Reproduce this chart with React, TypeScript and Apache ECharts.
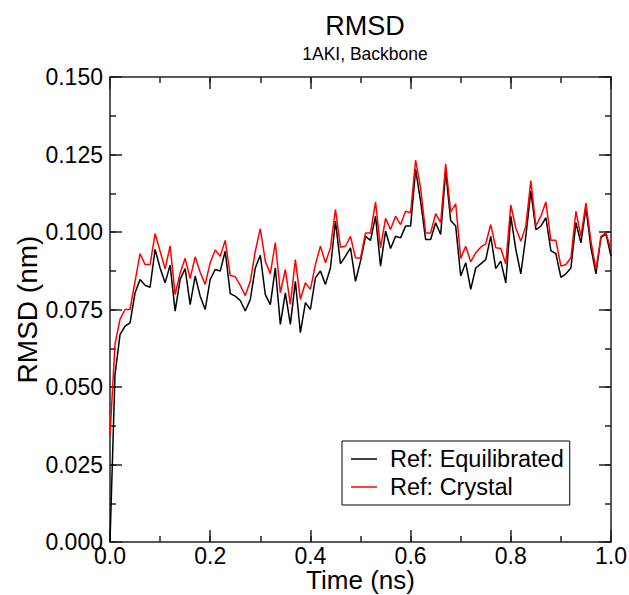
import React, { useEffect, useRef } from "react";
import * as echarts from "echarts";

const timeNs = [
  0.0, 0.01, 0.02, 0.03, 0.04, 0.05, 0.06, 0.07, 0.08, 0.09,
  0.1, 0.11, 0.12, 0.13, 0.14, 0.15, 0.16, 0.17, 0.18, 0.19,
  0.2, 0.21, 0.22, 0.23, 0.24, 0.25, 0.26, 0.27, 0.28, 0.29,
  0.3, 0.31, 0.32, 0.33, 0.34, 0.35, 0.36, 0.37, 0.38, 0.39,
  0.4, 0.41, 0.42, 0.43, 0.44, 0.45, 0.46, 0.47, 0.48, 0.49,
  0.5, 0.51, 0.52, 0.53, 0.54, 0.55, 0.56, 0.57, 0.58, 0.59,
  0.6, 0.61, 0.62, 0.63, 0.64, 0.65, 0.66, 0.67, 0.68, 0.69,
  0.7, 0.71, 0.72, 0.73, 0.74, 0.75, 0.76, 0.77, 0.78, 0.79,
  0.8, 0.81, 0.82, 0.83, 0.84, 0.85, 0.86, 0.87, 0.88, 0.89,
  0.9, 0.91, 0.92, 0.93, 0.94, 0.95, 0.96, 0.97, 0.98, 0.99,
  1.0,
];

const rmsdEquilibrated = [
  0.0, 0.054, 0.0669, 0.0696, 0.0707, 0.0804, 0.0847, 0.0828, 0.0822, 0.0944,
  0.0884, 0.0836, 0.0893, 0.0745, 0.0847, 0.0882, 0.0766, 0.0858, 0.0793, 0.075,
  0.0847, 0.0879, 0.0874, 0.0938, 0.0801, 0.0793, 0.0779, 0.0745, 0.0782, 0.0884,
  0.0925, 0.0798, 0.0766, 0.0884, 0.0702, 0.0804, 0.0702, 0.0841, 0.0675, 0.0772,
  0.075, 0.0852, 0.0874, 0.0831, 0.0884, 0.1035, 0.0897, 0.0922, 0.0949, 0.0841,
  0.0906, 0.0986, 0.0973, 0.1051, 0.089, 0.1003, 0.0947, 0.0986, 0.0981, 0.1019,
  0.1019, 0.1202, 0.1099, 0.0976, 0.0976, 0.103, 0.0992, 0.1196, 0.1037, 0.1019,
  0.0858, 0.0901, 0.0815, 0.0884, 0.0897, 0.0911, 0.0986, 0.0882, 0.0906, 0.0836,
  0.1051, 0.0944, 0.0865, 0.0986, 0.1132, 0.1008, 0.1019, 0.1046, 0.094, 0.093,
  0.0854, 0.0865, 0.0884, 0.103, 0.0965, 0.1078, 0.0949, 0.0865, 0.0983, 0.0994,
  0.0922,
];

const rmsdCrystal = [
  0.0343, 0.0639, 0.0718, 0.075, 0.075, 0.0841, 0.093, 0.0895, 0.0895, 0.0995,
  0.0938, 0.0881, 0.0955, 0.0798, 0.0868, 0.0915, 0.085, 0.092, 0.087, 0.0831,
  0.0901, 0.0942, 0.0922, 0.0973, 0.086, 0.0856, 0.0828, 0.0795, 0.0841, 0.0938,
  0.1011, 0.0906, 0.0865, 0.0966, 0.0804, 0.0879, 0.0766, 0.0911, 0.0782, 0.0836,
  0.0815, 0.0895, 0.0954, 0.0901, 0.0949, 0.1073, 0.0951, 0.0954, 0.0986, 0.0917,
  0.0915, 0.0997, 0.0997, 0.1097, 0.0949, 0.1044, 0.1008, 0.1051, 0.1024, 0.1067,
  0.1062, 0.1232, 0.1142, 0.0997, 0.0997, 0.1059, 0.103, 0.122, 0.1065, 0.1091,
  0.0915, 0.0954, 0.0904, 0.0933, 0.0951, 0.0962, 0.1024, 0.0949, 0.0947, 0.0897,
  0.1087, 0.1013, 0.097, 0.1019, 0.1166, 0.1019, 0.1051, 0.1097, 0.0973, 0.0973,
  0.089, 0.0895, 0.0917, 0.1067, 0.0986, 0.1094, 0.097, 0.0879, 0.0986, 0.0997,
  0.0944,
];

const seriesNames = ["Ref: Equilibrated", "Ref: Crystal"];
const seriesColors = ["#000000", "#ff0000"];

const FONT = "'Liberation Sans', Arial, Helvetica, sans-serif";
const AXIS_COLOR = "#222";

export default function App() {
  const ref = useRef<HTMLDivElement>(null);

  useEffect(() => {
    document.body.style.margin = "0";
    if (!ref.current) return;
    const chart = echarts.init(ref.current, null, { renderer: "svg" });

    const lineStyle = { color: AXIS_COLOR, width: 1.5 };
    const majorTick = { show: true, inside: true, length: 12, lineStyle };
    const minorTickAsMajor = { show: true, inside: true, length: 6, lineStyle };

    const xMajor = (position: string) => ({
      type: "value",
      min: 0,
      max: 1,
      interval: 0.2,
      position,
      axisLine: { show: true, onZero: false, lineStyle },
      axisTick: majorTick,
      minorTick: { show: false },
      splitLine: { show: false },
      axisLabel: { show: false },
    });
    const xMinor = (position: string) => ({
      type: "value",
      min: 0,
      max: 1,
      interval: 0.1,
      position,
      axisLine: { show: false, onZero: false },
      axisTick: minorTickAsMajor,
      splitLine: { show: false },
      axisLabel: { show: false },
    });
    const yMajor = (position: string) => ({
      type: "value",
      min: 0,
      max: 0.15,
      interval: 0.025,
      position,
      axisLine: { show: true, onZero: false, lineStyle },
      axisTick: majorTick,
      minorTick: { show: false },
      splitLine: { show: false },
      axisLabel: { show: false },
    });
    const yMinor = (position: string) => ({
      type: "value",
      min: 0,
      max: 0.15,
      interval: 0.0125,
      position,
      axisLine: { show: false, onZero: false },
      axisTick: minorTickAsMajor,
      splitLine: { show: false },
      axisLabel: { show: false },
    });

    const toPairs = (vals: number[]) => vals.map((v, i) => [timeNs[i], v]);

    const option = {
      animation: false,
      backgroundColor: "#ffffff",
      title: [
        {
          text: "RMSD",
          left: 360,
          top: 7,
          textAlign: "center",
          textStyle: { fontFamily: FONT, fontSize: 27, fontWeight: "normal", color: "#000" },
        },
        {
          text: "1AKI, Backbone",
          left: 360,
          top: 40,
          textAlign: "center",
          textStyle: { fontFamily: FONT, fontSize: 17.5, fontWeight: "normal", color: "#000" },
        },
      ],
      legend: {
        orient: "vertical",
        left: 342,
        top: 441,
        data: seriesNames,
        icon: "rect",
        backgroundColor: "#ffffff",
        borderColor: "#000",
        borderWidth: 1,
        borderRadius: 0,
        padding: [6, 6, 6, 9],
        itemGap: 4,
        itemWidth: 26,
        itemHeight: 1.5,
        textStyle: { fontFamily: FONT, fontSize: 23.5, color: "#000", padding: [0, 0, 0, 8] },
      },
      grid: {
        left: 110,
        right: 18,
        top: 77,
        bottom: 53,
        containLabel: false,
        outerBoundsMode: "none",
      },
      xAxis: [
        {
          ...xMajor("bottom"),
          name: "Time (ns)",
          nameLocation: "middle",
          nameGap: 25,
          nameMoveOverlap: false,
          nameTextStyle: { fontFamily: FONT, fontSize: 26, lineHeight: 26, color: "#000" },
          axisLabel: {
            show: true,
            fontFamily: FONT,
            fontSize: 23,
            lineHeight: 22,
            color: "#000",
            margin: 3,
            formatter: (v: number) => v.toFixed(1),
          },
        },
        xMajor("top"),
        xMinor("bottom"),
        xMinor("top"),
      ],
      yAxis: [
        {
          ...yMajor("left"),
          name: "RMSD (nm)",
          nameLocation: "middle",
          nameGap: 69,
          nameMoveOverlap: false,
          nameTextStyle: { fontFamily: FONT, fontSize: 28, color: "#000" },
          axisLabel: {
            show: true,
            fontFamily: FONT,
            fontSize: 23,
            color: "#000",
            margin: 7,
            formatter: (v: number) => v.toFixed(3),
          },
        },
        yMajor("right"),
        yMinor("left"),
        yMinor("right"),
      ],
      series: [
        {
          name: seriesNames[0],
          type: "line",
          xAxisIndex: 0,
          yAxisIndex: 0,
          data: toPairs(rmsdEquilibrated),
          symbol: "none",
          lineStyle: { color: seriesColors[0], width: 1.5 },
          itemStyle: { color: seriesColors[0] },
        },
        {
          name: seriesNames[1],
          type: "line",
          xAxisIndex: 0,
          yAxisIndex: 0,
          data: toPairs(rmsdCrystal),
          symbol: "none",
          lineStyle: { color: seriesColors[1], width: 1.5 },
          itemStyle: { color: seriesColors[1] },
        },
      ],
    };

    chart.setOption(option as any);
    return () => chart.dispose();
  }, []);

  return <div ref={ref} style={{ width: 629, height: 595 }} />;
}
